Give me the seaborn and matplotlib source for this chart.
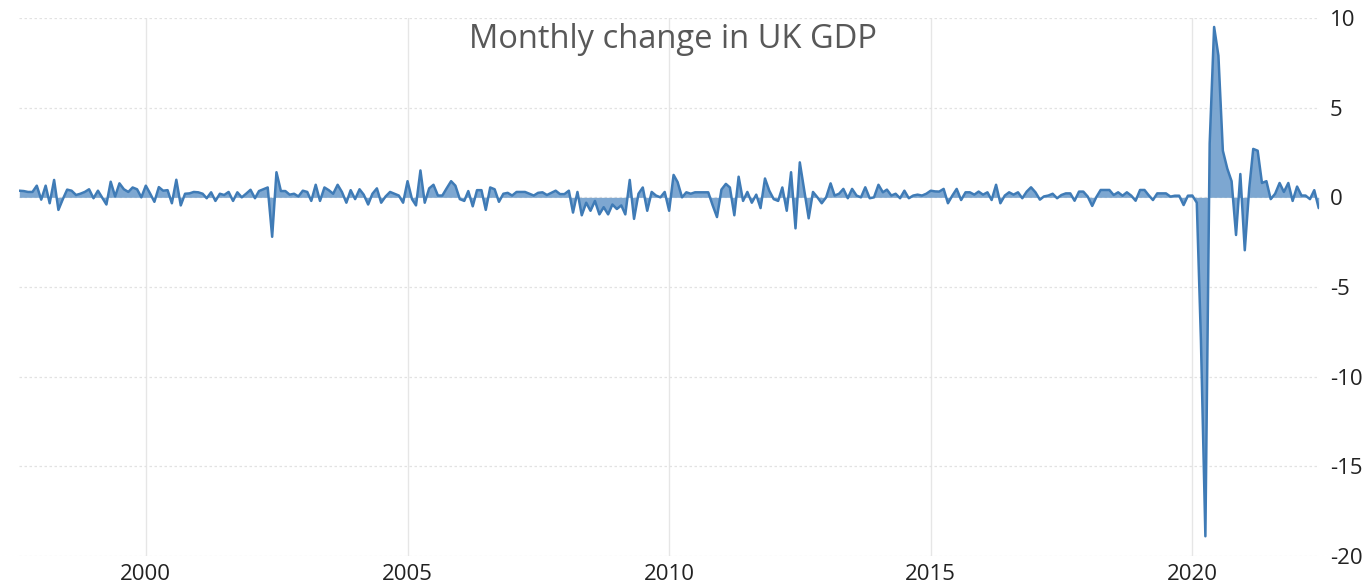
import numpy as np
import pandas as pd
import matplotlib
matplotlib.use("Agg")
import matplotlib.pyplot as plt
import seaborn as sns

# Monthly % change in UK GDP, Aug 1997 - Jun 2022
start_month = "1997-08-01"
gdp_1997_2002 = [0.37, 0.35, 0.3, 0.3, 0.65, -0.13, 0.65, -0.33, 0.97, -0.7,
                 -0.1, 0.43, 0.37, 0.13, 0.2, 0.3, 0.45, -0.05, 0.37, 0.0,
                 -0.4, 0.87, 0.05, 0.78, 0.45, 0.3, 0.55, 0.45, 0.0, 0.65,
                 0.2, -0.25, 0.57, 0.37, 0.4, -0.33, 0.98, -0.45, 0.2, 0.22,
                 0.3, 0.28, 0.2, -0.05, 0.28, -0.2, 0.2, 0.13, 0.3, -0.2,
                 0.28, 0.0, 0.2, 0.42, -0.05, 0.35, 0.45, 0.55, -2.2]
gdp_2002_2007 = [1.4, 0.35, 0.35, 0.15, 0.2, 0.05, 0.37, 0.3, -0.2, 0.7,
                 -0.2, 0.55, 0.4, 0.2, 0.7, 0.3, -0.3, 0.4, -0.1, 0.45,
                 0.15, -0.4, 0.2, 0.5, -0.3, 0.05, 0.3, 0.2, 0.1, -0.3,
                 0.9, -0.1, -0.45, 1.5, -0.3, 0.5, 0.7, 0.1, 0.1, 0.5,
                 0.9, 0.65, -0.1, -0.2, 0.35, -0.5, 0.4, 0.4, -0.7, 0.55,
                 0.45, -0.25, 0.2, 0.25, 0.1, 0.3, 0.3, 0.3, 0.2, 0.1]
gdp_2007_2012 = [0.25, 0.28, 0.13, 0.25, 0.37, 0.18, 0.18, 0.37, -0.85, 0.3,
                 -1.0, -0.3, -0.75, -0.2, -0.95, -0.55, -0.95, -0.4, -0.65, -0.45,
                 -0.95, 0.97, -1.2, 0.2, 0.55, -0.75, 0.3, 0.1, 0.0, 0.3,
                 -0.75, 1.25, 0.85, 0.0, 0.28, 0.2, 0.28, 0.28, 0.28, 0.28,
                 -0.45, -1.1, 0.43, 0.75, 0.55, -1.0, 1.15, -0.2, 0.3, -0.3,
                 0.15, -0.6, 1.05, 0.37, -0.1, -0.2, 0.55, -0.75]
gdp_2012_2017 = [1.4, -1.73, 1.95, 0.4, -1.17, 0.3, 0.0, -0.33, 0.0, 0.78,
                 0.1, 0.2, 0.47, -0.05, 0.47, 0.1, 0.0, 0.56, -0.05, 0.0,
                 0.7, 0.28, 0.43, 0.1, 0.2, -0.05, 0.37, -0.05, 0.1, 0.15,
                 0.1, 0.2, 0.37, 0.33, 0.32, 0.47, -0.33, 0.1, 0.47, -0.15,
                 0.28, 0.28, 0.15, 0.32, 0.15, 0.28, -0.15, 0.7, -0.33, 0.1,
                 0.28, 0.15, 0.28, -0.05, 0.32, 0.56, 0.28, -0.13, 0.05, 0.1,
                 0.2]
gdp_2017_2019 = [-0.05, 0.13, 0.22, 0.22, -0.19, 0.32, 0.32, 0.04, -0.48, 0.0,
                 0.41, 0.41, 0.41, 0.13, 0.28, 0.09, 0.28, 0.09, -0.19, 0.41,
                 0.41, 0.13, -0.15, 0.22, 0.22, 0.22, 0.04, 0.09, 0.09, -0.43,
                 0.09]
gdp_2020_2022 = [0.1, -0.3, -8.0, -18.9, 3.0, 9.5, 7.9, 2.6, 1.6, 0.9,
                 -2.1, 1.3, -2.95, 0.5, 2.7, 2.6, 0.8, 0.9, -0.1, 0.2,
                 0.8, 0.3, 0.8, -0.2, 0.6, 0.1, 0.1, -0.1, 0.4, -0.6]

year_ticks = [2000, 2005, 2010, 2015, 2020]
y_ticks = [10, 5, 0, -5, -10, -15, -20]
title = "Monthly change in UK GDP"

values = np.array(gdp_1997_2002 + gdp_2002_2007 + gdp_2007_2012 +
                  gdp_2012_2017 + gdp_2017_2019 + gdp_2020_2022)
dates = pd.date_range(start_month, periods=len(values), freq="MS")
df = pd.DataFrame({"date": dates, "change": values})

sns.set_style("white")
plt.rcParams["font.family"] = ["Open Sans", "DejaVu Sans"]
plt.rcParams["axes.unicode_minus"] = False

fig = plt.figure(figsize=(13.68, 5.88), dpi=100)
ax = fig.add_axes([19.3 / 1368, 1 - 556 / 588, (1318.7 - 19.3) / 1368, (556 - 18) / 588])

line_color = "#3f7bb6"
fill_color = "#6f9ecc"

ax.fill_between(df["date"], df["change"], 0, color=fill_color, alpha=0.9, linewidth=0, zorder=2)
sns.lineplot(data=df, x="date", y="change", ax=ax, color=line_color, linewidth=1.8, zorder=3)

ax.set_xlim(dates[0], dates[-1])
ax.set_ylim(-20, 10)
ax.set_yticks(y_ticks)
ax.set_yticklabels([str(t) for t in y_ticks])
ax.set_xticks([pd.Timestamp(f"{y}-01-01") for y in year_ticks])
ax.set_xticklabels([str(y) for y in year_ticks])

ax.yaxis.tick_right()
ax.tick_params(axis="y", length=0, pad=8, labelsize=16, labelcolor="#222222")
ax.tick_params(axis="x", length=0, pad=6, labelsize=16, labelcolor="#222222")
for lab in ax.get_yticklabels():
    lab.set_horizontalalignment("left")

ax.grid(axis="x", color="#e6e6e6", linewidth=1.0, zorder=0)
ax.grid(axis="y", color="#e2e2e2", linewidth=0.9, linestyle=(0, (2, 2)), zorder=0)
for s in ax.spines.values():
    s.set_visible(False)
ax.set_xlabel("")
ax.set_ylabel("")

fig.text(673 / 1368, 1 - 40 / 588, title, ha="center", va="center",
         fontsize=23.5, color="#585858")

fig.savefig("out.png", dpi=100)
